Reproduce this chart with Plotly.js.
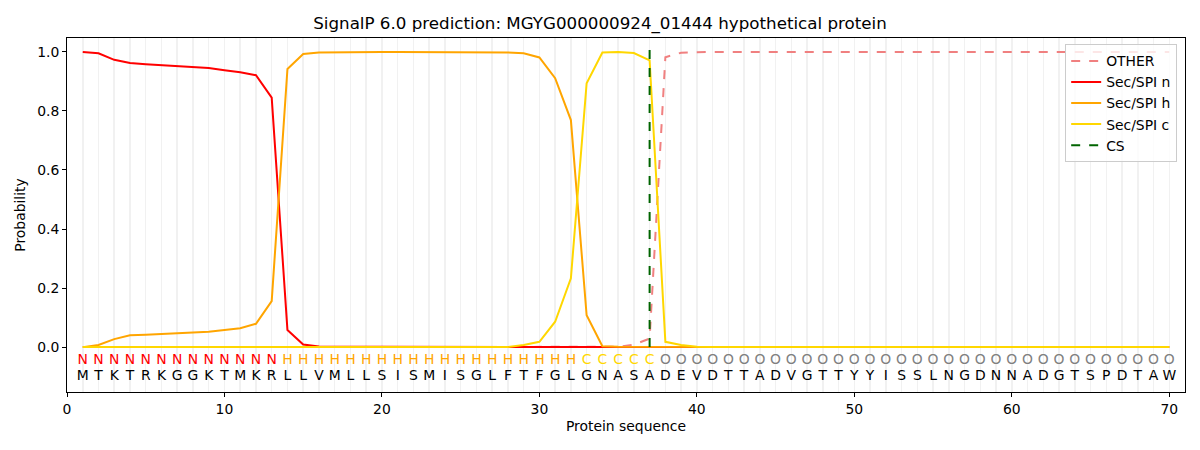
<!DOCTYPE html>
<html>
<head>
<meta charset="utf-8">
<script src="https://cdn.plot.ly/plotly-3.0.1.min.js"></script>
<style>html,body{margin:0;padding:0;background:#fff;}#chart{width:1200px;height:450px;}</style>
</head>
<body>
<div id="chart"></div>
<script>
const residues = ["M","T","K","T","R","K","G","G","K","T","M","K","R","L","L","V","M","L","L","S","I","S","M","I","S","G","L","F","T","F","G","L","G","N","A","S","A","D","E","V","D","T","T","A","D","V","G","T","T","Y","Y","I","S","S","L","N","G","D","N","N","A","D","G","T","S","P","D","T","A","W"];
const regionLabels = ["N","N","N","N","N","N","N","N","N","N","N","N","N","H","H","H","H","H","H","H","H","H","H","H","H","H","H","H","H","H","H","H","C","C","C","C","C","O","O","O","O","O","O","O","O","O","O","O","O","O","O","O","O","O","O","O","O","O","O","O","O","O","O","O","O","O","O","O","O","O"];
const positions = residues.map((_, i) => i + 1);

const probOther = [0,0,0,0,0,0,0,0,0,0,0,0,0,0,0,0,0,0,0,0,0,0,0,0,0,0,0,0,0,0,0,0,0,0,0.001,0.008,0.029,0.982,0.997,0.999,1,1,1,1,1,1,1,1,1,1,1,1,1,1,1,1,1,1,1,1,1,1,1,1,1,1,1,1,1,1];
const probN = [1.0,0.995,0.973,0.962,0.958,0.955,0.952,0.949,0.945,0.938,0.931,0.921,0.845,0.058,0.009,0.002,0.001,0.001,0.001,0.001,0.001,0.001,0.001,0.001,0.001,0.001,0.001,0.001,0.001,0.001,0.001,0.001,0.001,0.001,0,0,0,0,0,0,0,0,0,0,0,0,0,0,0,0,0,0,0,0,0,0,0,0,0,0,0,0,0,0,0,0,0,0,0,0];
const probH = [0.0,0.007,0.027,0.040,0.042,0.044,0.047,0.049,0.052,0.058,0.064,0.079,0.156,0.942,0.993,0.998,0.999,1,1,1,1,1,1,1,1,1,0.999,0.998,0.995,0.981,0.911,0.769,0.108,0.003,0.001,0.001,0.001,0.001,0,0,0,0,0,0,0,0,0,0,0,0,0,0,0,0,0,0,0,0,0,0,0,0,0,0,0,0,0,0,0,0];
const probC = [0,0,0,0,0,0,0,0,0,0,0,0,0,0,0,0,0,0,0,0,0,0,0,0,0,0,0,0,0.007,0.018,0.086,0.233,0.894,0.998,1.0,0.996,0.971,0.018,0.007,0.001,0,0,0,0,0,0,0,0,0,0,0,0,0,0,0,0,0,0,0,0,0,0,0,0,0,0,0,0,0,0];
const csPosition = 37;
const csSpan = [0, 1.035];

const labelColors = {N: "#ff0000", H: "#ffa500", C: "#ffd700", O: "#808080"};

const traces = [
  {x: positions, y: probOther, name: "OTHER", mode: "lines", line: {color: "#f08080", width: 2, dash: "dash"}},
  {x: positions, y: probN, name: "Sec/SPI n", mode: "lines", line: {color: "#ff0000", width: 2}},
  {x: positions, y: probH, name: "Sec/SPI h", mode: "lines", line: {color: "#ffa500", width: 2}},
  {x: positions, y: probC, name: "Sec/SPI c", mode: "lines", line: {color: "#ffd700", width: 2}},
  {x: [csPosition, csPosition], y: csSpan, name: "CS", mode: "lines", line: {color: "#006400", width: 2, dash: "dash"}},
  {x: positions, y: positions.map(() => -0.047), text: regionLabels, mode: "text", showlegend: false, hoverinfo: "skip",
   textfont: {family: "DejaVu Sans", size: 13.9, color: regionLabels.map(l => labelColors[l])}},
  {x: positions, y: positions.map(() => -0.101), text: residues, mode: "text", showlegend: false, hoverinfo: "skip",
   textfont: {family: "DejaVu Sans", size: 13.9, color: "#000000"}}
];

const layout = {
  width: 1200, height: 450,
  margin: {l: 67, r: 15, t: 38, b: 58},
  paper_bgcolor: "#fff", plot_bgcolor: "#fff",
  font: {family: "DejaVu Sans", size: 13.9, color: "#000"},
  title: {text: "SignalP 6.0 prediction: MGYG000000924_01444 hypothetical protein", font: {size: 16.7, color: "#000"}, x: 0.5, xanchor: "center", y: 0.948, yanchor: "middle"},
  xaxis: {
    range: [0, 71], tickmode: "array", tickvals: [0,10,20,30,40,50,60,70], ticktext: ["0","10","20","30","40","50","60","70"],
    ticks: "outside", ticklen: 4, tickcolor: "#000", showline: true, linecolor: "#000", linewidth: 1, mirror: true,
    showgrid: true, gridcolor: "#f1f1f1", gridwidth: 1.5, zeroline: false, tickfont: {size: 13.9},
    minor: {dtick: 1, tick0: 0, showgrid: true, gridcolor: "#f1f1f1", gridwidth: 1.5, ticks: ""},
    title: {text: "Protein sequence", font: {size: 13.9}, standoff: 5}
  },
  yaxis: {
    range: [-0.152, 1.047], tickmode: "array", tickvals: [0,0.2,0.4,0.6,0.8,1.0], ticktext: ["0.0","0.2","0.4","0.6","0.8","1.0"],
    ticks: "outside", ticklen: 4, tickcolor: "#000", showline: true, linecolor: "#000", linewidth: 1, mirror: true,
    showgrid: false, zeroline: false, tickfont: {size: 13.9},
    title: {text: "Probability", font: {size: 13.9}, standoff: 8}
  },
  legend: {x: 0.993, xanchor: "right", y: 0.982, yanchor: "top", bgcolor: "rgba(255,255,255,0.8)", bordercolor: "#cccccc", borderwidth: 1, font: {size: 13.9}, tracegroupgap: 0, itemwidth: 30},
  showlegend: true
};

Plotly.newPlot("chart", traces, layout, {staticPlot: true});
</script>
</body>
</html>
